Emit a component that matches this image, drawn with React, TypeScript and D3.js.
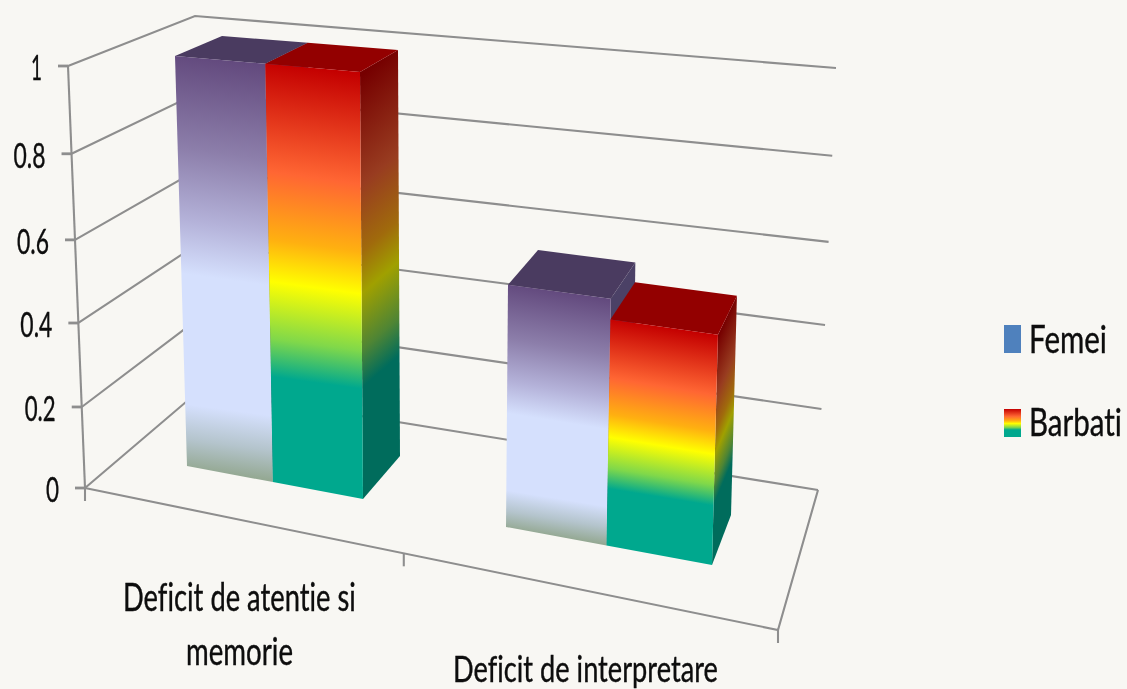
import React from "react";
import * as d3 from "d3";

const categories = ["Deficit de atentie si memorie", "Deficit de interpretare"];
const femei = [1, 0.6];
const barbati = [1, 0.55];
const yTicks = [0, 0.2, 0.4, 0.6, 0.8, 1];
const yTickLabels = ["0", "0.2", "0.4", "0.6", "0.8", "1"];
const legendLabels = ["Femei", "Barbati"];

type P = [number, number];
const W = 1127, H = 689;
const BG = "#f8f7f3";
const GRID = "#8e8e8e";
const FONT = "Lato, Carlito, sans-serif";

// perspective-aware value scale: value -> fraction of wall height
const yFrac = d3.scaleLinear().domain(yTicks).range([0, 0.192, 0.391, 0.588, 0.792, 1]);
const lerp = (a: P, b: P, t: number): P => [a[0] + (b[0] - a[0]) * t, a[1] + (b[1] - a[1]) * t];

// wall / floor frame: [bottom, top]
const frontLeft: [P, P] = [[85, 488], [68, 66]];
const backLeft: [P, P] = [[200, 390], [195, 16]];
const backRight: [P, P] = [[818, 490], [836, 68]];
const frontRightFloor: P = [778, 630];

// each category's 3D box at axis value 0 and at axis maximum: fl, fr, br, bl
const boxes: { v0: P[]; v1: P[] }[] = [
  { v0: [[187, 466], [363, 499], [400, 456], [236, 430]], v1: [[175, 56], [360, 72], [398, 50], [222, 36]] },
  { v0: [[506, 527], [712, 565], [731, 515], [538, 480]], v1: [[509.4, 115], [723, 137.5], [742, 108], [538, 89]] },
];
const split = 0.488;

function boxPoint(b: { v0: P[]; v1: P[] }, x: number, z: number, f: number): P {
  const corner = (i: number) => lerp(b.v0[i], b.v1[i], f);
  return lerp(lerp(corner(0), corner(1), x), lerp(corner(3), corner(2), x), z);
}

const poly = d3.line<P>().curve(d3.curveLinearClosed);
const seg = d3.line<P>();

const femeiFront: [number, string][] = [
  [0, "#634a7e"], [0.225, "#8c7eaa"], [0.4, "#b4b2d9"], [0.53, "#d5e0fd"], [0.845, "#d5e0fd"], [0.93, "#b4c4cc"], [1, "#95a994"],
];
const barbatiFront: [number, string][] = [
  [0, "#c40000"], [0.26, "#ff6633"], [0.42, "#ffb010"], [0.52, "#ffff00"], [0.655, "#80d84a"], [0.745, "#00a88e"], [1, "#00a88e"],
];
const barbatiSide: [number, string][] = [
  [0, "#760000"], [0.26, "#983c20"], [0.42, "#a06a0c"], [0.52, "#a0a000"], [0.655, "#4f8534"], [0.745, "#006c5c"], [1, "#006c5c"],
];

// gradient whose bands run parallel to the face's top/bottom edges
function Grad({ id, stops, q }: { id: string; stops: [number, string][]; q: P[] }) {
  const [tl, tr, br, bl] = q;
  const dx = tr[0] - tl[0] + br[0] - bl[0];
  const dy = tr[1] - tl[1] + br[1] - bl[1];
  const len = Math.hypot(dx, dy);
  const n: P = [-dy / len, dx / len];
  const a = lerp(tl, tr, 0.5);
  const b = lerp(bl, br, 0.5);
  const h = (b[0] - a[0]) * n[0] + (b[1] - a[1]) * n[1];
  return (
    <linearGradient id={id} gradientUnits="userSpaceOnUse" x1={a[0]} y1={a[1]} x2={a[0] + n[0] * h} y2={a[1] + n[1] * h}>
      {stops.map(([o, c], i) => <stop key={i} offset={o} stopColor={c} />)}
    </linearGradient>
  );
}

// condensed text: squeezed horizontally to span exactly w pixels from its left edge x
function Txt({ x, y, w, size, children }: { x: number; y: number; w: number; size: number; children: string }) {
  const fit = (el: SVGTextElement | null) => {
    if (!el) return;
    const natural = el.getComputedTextLength();
    el.setAttribute("transform", `translate(${x},${y}) scale(${w / natural},1)`);
  };
  return (
    <g filter="url(#soft)">
      <text ref={fit} fontSize={size} fontFamily={FONT} fill="#0a0a0a" stroke="#0a0a0a" strokeWidth={0.35} style={{ fontVariantLigatures: "none" }}>
        {children}
      </text>
    </g>
  );
}

export default function App() {
  const wall = (edge: [P, P], v: number) => lerp(edge[0], edge[1], yFrac(v));
  const tickWidths = [13, 31, 32, 32, 32, 11];
  const tickDown = [0, 0.46, 1];

  const defs: React.ReactNode[] = [];
  const faces: React.ReactNode[] = [];
  categories.forEach((_, i) => {
    const b = boxes[i];
    const ff = yFrac(femei[i]);
    const fb = yFrac(barbati[i]);
    const fFront = [boxPoint(b, 0, 0, ff), boxPoint(b, split, 0, ff), boxPoint(b, split, 0, 0), boxPoint(b, 0, 0, 0)];
    const fTop = [boxPoint(b, 0, 0, ff), boxPoint(b, split, 0, ff), boxPoint(b, split, 1, ff), boxPoint(b, 0, 1, ff)];
    const fSide = [boxPoint(b, split, 0, ff), boxPoint(b, split, 1, ff), boxPoint(b, split, 1, 0), boxPoint(b, split, 0, 0)];
    const bFront = [boxPoint(b, split, 0, fb), boxPoint(b, 1, 0, fb), boxPoint(b, 1, 0, 0), boxPoint(b, split, 0, 0)];
    const bTop = [boxPoint(b, split, 0, fb), boxPoint(b, 1, 0, fb), boxPoint(b, 1, 1, fb), boxPoint(b, split, 1, fb)];
    const bSide = [boxPoint(b, 1, 0, fb), boxPoint(b, 1, 1, fb), boxPoint(b, 1, 1, 0), boxPoint(b, 1, 0, 0)];
    defs.push(
      <Grad key={`a${i}`} id={`ff${i}`} stops={femeiFront} q={fFront} />,
      <Grad key={`b${i}`} id={`bf${i}`} stops={barbatiFront} q={bFront} />,
      <Grad key={`c${i}`} id={`bs${i}`} stops={barbatiSide} q={bSide} />
    );
    faces.push(
      <g key={i}>
        <path d={poly(fSide)!} fill="#4b4166" />
        <path d={poly(fTop)!} fill="#4a3b60" />
        <path d={poly(fFront)!} fill={`url(#ff${i})`} />
        <path d={poly(bSide)!} fill={`url(#bs${i})`} />
        <path d={poly(bTop)!} fill="#930000" />
        <path d={poly(bFront)!} fill={`url(#bf${i})`} />
      </g>
    );
  });

  return (
    <svg width={W} height={H} style={{ position: "absolute", left: 0, top: 0, display: "block" }}>
      <defs>
        <filter id="soft" filterUnits="userSpaceOnUse" x="0" y="0" width={W} height={H}><feGaussianBlur stdDeviation="0.45" /></filter>
        <filter id="softL" filterUnits="userSpaceOnUse" x="0" y="0" width={W} height={H}><feGaussianBlur stdDeviation="0.55" /></filter>
        <linearGradient id="legendB" x1="0" y1="0" x2="0" y2="1">
          {barbatiFront.map(([o, c], i) => <stop key={i} offset={o} stopColor={c} />)}
        </linearGradient>
        {defs}
      </defs>
      <rect width={W} height={H} fill={BG} />

      <g stroke={GRID} strokeWidth={2.1} fill="none" filter="url(#softL)">
        {yTicks.map((v) => {
          const a = wall(frontLeft, v), b = wall(backLeft, v), c = wall(backRight, v);
          return (
            <g key={v}>
              <path d={seg([a, b, c])!} />
              <path d={seg([[a[0] - 10, a[1]], a])!} strokeWidth={2.8} />
            </g>
          );
        })}
        <path d={seg([frontLeft[1], frontLeft[0]])!} />
        <path d={seg([frontLeft[0], frontRightFloor, backRight[0]])!} />
        {tickDown.map((t) => {
          const p = lerp(frontLeft[0], frontRightFloor, t);
          return <path key={t} d={seg([p, [p[0], p[1] + 13]])!} />;
        })}
      </g>

      {faces}

      {yTicks.map((v, i) => {
        const a = wall(frontLeft, v);
        return (
          <Txt key={v} x={a[0] - 26 - tickWidths[i]} y={a[1] + 14} w={tickWidths[i]} size={34}>
            {yTickLabels[i]}
          </Txt>
        );
      })}

      <Txt x={123} y={611} w={233} size={38}>Deficit de atentie si</Txt>
      <Txt x={186} y={665} w={107} size={38}>memorie</Txt>
      <Txt x={453} y={682} w={265} size={37}>{categories[1]}</Txt>

      <rect x={1004} y={325} width={17} height={28} fill="#4f81bd" />
      <rect x={1004} y={409} width={17} height={28} fill="url(#legendB)" />
      <Txt x={1029} y={353} w={78} size={38}>{legendLabels[0]}</Txt>
      <Txt x={1029} y={436} w={93} size={38}>{legendLabels[1]}</Txt>
    </svg>
  );
}
